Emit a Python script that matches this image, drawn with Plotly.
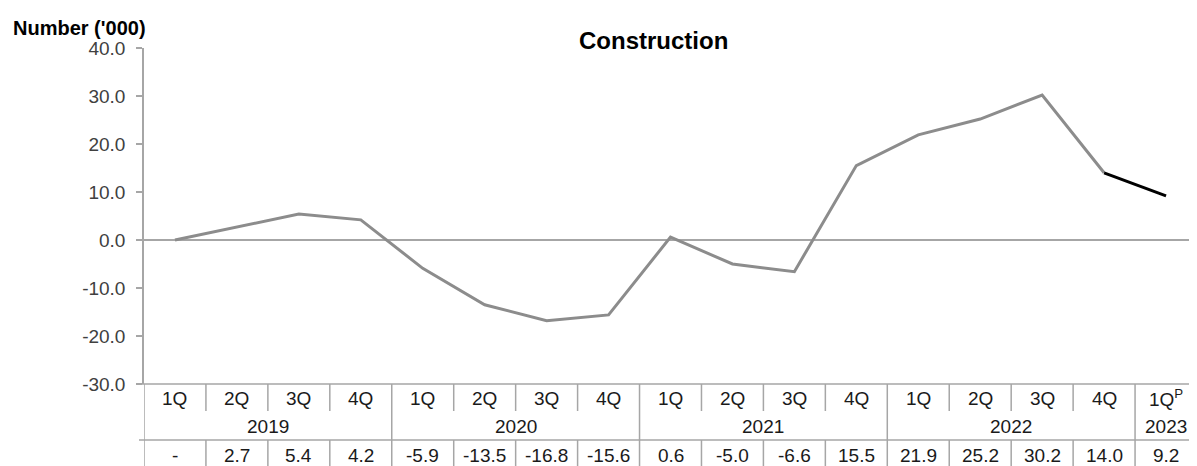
import plotly.graph_objects as go

quarters = ["1Q", "2Q", "3Q", "4Q", "1Q", "2Q", "3Q", "4Q", "1Q", "2Q", "3Q", "4Q",
            "1Q", "2Q", "3Q", "4Q", "1Q<sup>P</sup>"]
years = ["2019", "2020", "2021", "2022", "2023"]
year_counts = [4, 4, 4, 4, 1]
values = [0.0, 2.7, 5.4, 4.2, -5.9, -13.5, -16.8, -15.6, 0.6, -5.0, -6.6, 15.5,
          21.9, 25.2, 30.2, 14.0, 9.2]
value_labels = ["-", "2.7", "5.4", "4.2", "-5.9", "-13.5", "-16.8", "-15.6", "0.6", "-5.0",
                "-6.6", "15.5", "21.9", "25.2", "30.2", "14.0", "9.2"]
ytick_vals = [-30, -20, -10, 0, 10, 20, 30, 40]
ytick_text = ["-30.0", "-20.0", "-10.0", "0.0", "10.0", "20.0", "30.0", "40.0"]

# page offset (browser body margin)
OFF = 8
W, H = 1197 - OFF, 466 - OFF
# plot area in reference pixel coordinates
PL, PR, PT, PB = 144, 1197, 48, 384
L, R, T, B = PL - OFF, 1197 - PR, PT - OFF, 466 - PB
PH = PB - PT
PW = PR - PL


def py(p):
    return (PB - p) / PH


def px(p):
    return (p - PL) / PW


FONT = "Liberation Sans, Arial, sans-serif"
GRID = "#a6a6a6"
TXT = "#1a1a1a"
FS = 19
n = len(values)
xs = list(range(n))

fig = go.Figure()
fig.add_trace(go.Scatter(x=xs[:n - 1], y=values[:n - 1], mode="lines",
                         line=dict(color="#8c8c8c", width=3), hoverinfo="skip"))
fig.add_trace(go.Scatter(x=xs[n - 2:], y=values[n - 2:], mode="lines",
                         line=dict(color="#000000", width=3), hoverinfo="skip"))

shapes = []
annotations = []

# horizontal table lines
for p in (384, 440):
    shapes.append(dict(type="line", xref="paper", yref="paper", x0=px(139), x1=1,
                       y0=py(p), y1=py(p), line=dict(color=GRID, width=1.5)))

bounds = [0]
for c in year_counts:
    bounds.append(bounds[-1] + c)
year_edges = set(bounds)
for i in range(n + 1):
    xv = i - 0.5
    if i in year_edges:
        shapes.append(dict(type="line", xref="x", yref="paper", x0=xv, x1=xv,
                           y0=py(384), y1=py(466), line=dict(color=GRID, width=1.5)))
    else:
        shapes.append(dict(type="line", xref="x", yref="paper", x0=xv, x1=xv,
                           y0=py(384), y1=py(411), line=dict(color=GRID, width=1.5)))
        shapes.append(dict(type="line", xref="x", yref="paper", x0=xv, x1=xv,
                           y0=py(440), y1=py(466), line=dict(color=GRID, width=1.5)))

for i, q in enumerate(quarters):
    annotations.append(dict(x=i, y=py(398), xref="x", yref="paper", text=q,
                            showarrow=False, font=dict(family=FONT, size=FS, color=TXT),
                            xanchor="center", yanchor="middle"))
    annotations.append(dict(x=i, y=py(455), xref="x", yref="paper", text=value_labels[i],
                            showarrow=False, font=dict(family=FONT, size=FS, color=TXT),
                            xanchor="center", yanchor="middle"))

for k, yname in enumerate(years):
    mid = (bounds[k] + bounds[k + 1] - 1) / 2
    annotations.append(dict(x=mid, y=py(426), xref="x", yref="paper", text=yname,
                            showarrow=False, font=dict(family=FONT, size=FS, color=TXT),
                            xanchor="center", yanchor="middle"))

annotations.append(dict(x=px(653), y=py(40), xref="paper", yref="paper",
                        text="<b>Construction</b>", showarrow=False,
                        font=dict(family=FONT, size=24, color="#000000"),
                        xanchor="center", yanchor="middle"))
annotations.append(dict(x=px(11), y=py(28), xref="paper", yref="paper",
                        text="<b>Number ('000)</b>", showarrow=False,
                        font=dict(family=FONT, size=20, color="#000000"),
                        xanchor="left", yanchor="middle"))

fig.update_layout(
    width=W, height=H,
    margin=dict(l=L, r=R, t=T, b=B, pad=0),
    paper_bgcolor="white", plot_bgcolor="white",
    showlegend=False,
    shapes=shapes, annotations=annotations,
    xaxis=dict(range=[-0.5, n - 0.5], showticklabels=False, showgrid=False,
               zeroline=False, showline=False, ticks=""),
    yaxis=dict(range=[-30, 40], tickvals=ytick_vals, ticktext=ytick_text,
               showgrid=False, zeroline=True, zerolinecolor=GRID, zerolinewidth=1.5,
               showline=True, linecolor=GRID, linewidth=1.5,
               ticks="outside", ticklen=6, tickcolor=GRID, tickwidth=1.5,
               ticklabelstandoff=7,
               tickfont=dict(family=FONT, size=FS, color="#404040")),
)

fig.write_html("out.html")
